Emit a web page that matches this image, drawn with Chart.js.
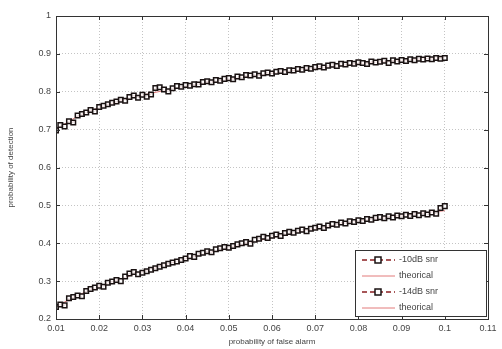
<!DOCTYPE html>
<html>
<head>
<meta charset="utf-8">
<script src="https://cdn.jsdelivr.net/npm/chart.js@4.4.1/dist/chart.umd.min.js"></script>
<style>
  html, body { margin: 0; padding: 0; background: #fff; }
  #wrap { width: 502px; height: 349px; }
</style>
</head>
<body>
<div id="wrap"><canvas id="pdChart" width="502" height="349"></canvas></div>
<script>
// false alarm probabilities for the simulated runs (0.010 .. 0.100, step 0.001)
const pfaSim = [
  0.010, 0.011, 0.012, 0.013, 0.014, 0.015, 0.016, 0.017, 0.018, 0.019,
  0.020, 0.021, 0.022, 0.023, 0.024, 0.025, 0.026, 0.027, 0.028, 0.029,
  0.030, 0.031, 0.032, 0.033, 0.034, 0.035, 0.036, 0.037, 0.038, 0.039,
  0.040, 0.041, 0.042, 0.043, 0.044, 0.045, 0.046, 0.047, 0.048, 0.049,
  0.050, 0.051, 0.052, 0.053, 0.054, 0.055, 0.056, 0.057, 0.058, 0.059,
  0.060, 0.061, 0.062, 0.063, 0.064, 0.065, 0.066, 0.067, 0.068, 0.069,
  0.070, 0.071, 0.072, 0.073, 0.074, 0.075, 0.076, 0.077, 0.078, 0.079,
  0.080, 0.081, 0.082, 0.083, 0.084, 0.085, 0.086, 0.087, 0.088, 0.089,
  0.090, 0.091, 0.092, 0.093, 0.094, 0.095, 0.096, 0.097, 0.098, 0.099,
  0.100
];

// detection probability, -10dB snr (simulated)
const pd10Sim = [
  0.698, 0.712, 0.708, 0.722, 0.719, 0.737, 0.741, 0.745, 0.752, 0.748,
  0.760, 0.763, 0.767, 0.771, 0.774, 0.779, 0.776, 0.786, 0.790, 0.784,
  0.792, 0.787, 0.793, 0.810, 0.812, 0.806, 0.801, 0.809, 0.815, 0.813,
  0.818, 0.816, 0.820, 0.819, 0.826, 0.828, 0.825, 0.831, 0.829, 0.834,
  0.836, 0.833, 0.840, 0.838, 0.844, 0.843, 0.846, 0.842, 0.849, 0.851,
  0.848, 0.853, 0.855, 0.852, 0.857, 0.856, 0.860, 0.858, 0.863, 0.861,
  0.865, 0.867, 0.864, 0.869, 0.871, 0.868, 0.874, 0.872, 0.876, 0.874,
  0.878, 0.876, 0.873, 0.880, 0.877, 0.879, 0.882, 0.876, 0.883, 0.880,
  0.884, 0.881, 0.886, 0.883, 0.887, 0.885, 0.888, 0.886, 0.889, 0.887,
  0.889
];

// detection probability, -14dB snr (simulated)
const pd14Sim = [
  0.232, 0.238, 0.236, 0.255, 0.258, 0.262, 0.260, 0.274, 0.279, 0.283,
  0.288, 0.285, 0.296, 0.299, 0.303, 0.300, 0.312, 0.320, 0.324, 0.318,
  0.322, 0.326, 0.330, 0.334, 0.338, 0.342, 0.346, 0.349, 0.352, 0.356,
  0.360, 0.366, 0.364, 0.372, 0.375, 0.379, 0.376, 0.384, 0.387, 0.390,
  0.388, 0.393, 0.397, 0.400, 0.403, 0.399, 0.409, 0.412, 0.417, 0.414,
  0.420, 0.423, 0.419, 0.427, 0.430, 0.428, 0.433, 0.436, 0.432, 0.438,
  0.441, 0.444, 0.440, 0.447, 0.451, 0.449, 0.455, 0.452, 0.458, 0.456,
  0.461, 0.459, 0.464, 0.462, 0.467, 0.469, 0.466, 0.471, 0.468, 0.473,
  0.471, 0.475, 0.472, 0.477, 0.474, 0.479, 0.476, 0.481, 0.478, 0.493,
  0.498
];

// theoretical curves
const pfaTheo = [0.010, 0.015, 0.020, 0.025, 0.030, 0.035, 0.040, 0.045, 0.050, 0.055,
                 0.060, 0.065, 0.070, 0.075, 0.080, 0.085, 0.090, 0.095, 0.100];
const pd10Theo = [0.700, 0.735, 0.758, 0.776, 0.791, 0.803, 0.814, 0.824, 0.833, 0.841,
                  0.849, 0.856, 0.862, 0.868, 0.874, 0.879, 0.883, 0.887, 0.891];
const pd14Theo = [0.233, 0.262, 0.286, 0.306, 0.325, 0.343, 0.359, 0.374, 0.388, 0.402,
                  0.415, 0.427, 0.438, 0.449, 0.459, 0.467, 0.474, 0.480, 0.486];

const xTicks = [0.01, 0.02, 0.03, 0.04, 0.05, 0.06, 0.07, 0.08, 0.09, 0.1, 0.11];
const yTicks = [0.2, 0.3, 0.4, 0.5, 0.6, 0.7, 0.8, 0.9, 1];

const legendLabels = ['-10dB snr', 'theorical', '-14dB snr', 'theorical'];

const simColor = '#8a1f22';
const theoColor = '#e27a7a';
const textColor = '#444';
const FONT = '"Liberation Sans", Arial, sans-serif';

function toPoints(xs, ys) {
  return xs.map((x, i) => ({ x: x, y: ys[i] }));
}

function simSet(label, ys) {
  return {
    label: label,
    data: toPoints(pfaSim, ys),
    borderColor: simColor,
    borderWidth: 1,
    borderDash: [4, 3],
    pointStyle: 'rect',
    pointRadius: 3.2,
    pointBorderColor: '#1a1212',
    pointBackgroundColor: 'rgba(255,255,255,0.8)',
    pointBorderWidth: 1.5,
    tension: 0
  };
}

function theoSet(label, ys) {
  return {
    label: label,
    data: toPoints(pfaTheo, ys),
    borderColor: theoColor,
    borderWidth: 1,
    pointRadius: 0,
    tension: 0.3
  };
}

// box around the axes, inward tick marks and the legend
const framePlugin = {
  id: 'frame',
  afterDraw(chart) {
    const { ctx, chartArea: a, scales } = chart;
    ctx.save();
    ctx.strokeStyle = '#333';
    ctx.lineWidth = 1;
    ctx.strokeRect(a.left + 0.5, a.top + 0.5, a.right - a.left, a.bottom - a.top);

    ctx.beginPath();
    xTicks.forEach(v => {
      const px = Math.round(scales.x.getPixelForValue(v)) + 0.5;
      ctx.moveTo(px, a.bottom); ctx.lineTo(px, a.bottom - 4);
      ctx.moveTo(px, a.top); ctx.lineTo(px, a.top + 4);
    });
    yTicks.forEach(v => {
      const py = Math.round(scales.y.getPixelForValue(v)) + 0.5;
      ctx.moveTo(a.left, py); ctx.lineTo(a.left + 4, py);
      ctx.moveTo(a.right, py); ctx.lineTo(a.right - 4, py);
    });
    ctx.stroke();

    // legend
    const w = 131, h = 66;
    const bx = a.right - 2 - w, by = a.bottom - 3 - h;
    ctx.fillStyle = '#fff';
    ctx.fillRect(bx, by, w, h);
    ctx.strokeStyle = '#333';
    ctx.strokeRect(bx + 0.5, by + 0.5, w, h);

    ctx.font = '9px ' + FONT;
    ctx.textBaseline = 'middle';
    const rows = [by + 10, by + 26, by + 42, by + 58];
    rows.forEach((ry, i) => {
      const isSim = i % 2 === 0;
      const x0 = bx + 7, x1 = bx + 40;
      ctx.beginPath();
      if (isSim) {
        ctx.strokeStyle = simColor;
        ctx.lineWidth = 1.5;
        ctx.setLineDash([5, 3]);
      } else {
        ctx.strokeStyle = theoColor;
        ctx.lineWidth = 1;
        ctx.setLineDash([]);
      }
      ctx.moveTo(x0, ry); ctx.lineTo(x1, ry);
      ctx.stroke();
      ctx.setLineDash([]);
      if (isSim) {
        ctx.fillStyle = '#fff';
        ctx.strokeStyle = '#1a1212';
        ctx.lineWidth = 1.5;
        ctx.fillRect(bx + 20, ry - 3, 6, 6);
        ctx.strokeRect(bx + 20, ry - 3, 6, 6);
      }
      ctx.fillStyle = textColor;
      ctx.fillText(legendLabels[i], bx + 44, ry);
    });
    ctx.restore();
  }
};

// dotted grid lines on both axes
const gridStyle = {
  color: '#c4c4c4',
  lineWidth: 1,
  drawTicks: false
};
const gridBorder = { display: false, dash: [1, 2] };

new Chart(document.getElementById('pdChart').getContext('2d'), {
  type: 'line',
  data: {
    datasets: [
      simSet(legendLabels[0], pd10Sim),
      theoSet(legendLabels[1], pd10Theo),
      simSet(legendLabels[2], pd14Sim),
      theoSet(legendLabels[3], pd14Theo)
    ]
  },
  options: {
    responsive: false,
    animation: false,
    layout: { padding: { top: 16, right: 14, left: 6, bottom: 2 } },
    plugins: {
      legend: { display: false },
      tooltip: { enabled: false }
    },
    scales: {
      x: {
        type: 'linear',
        min: 0.01,
        max: 0.11,
        afterBuildTicks: scale => { scale.ticks = xTicks.map(v => ({ value: v })); },
        afterFit: scale => { scale.height = 28; },
        grid: gridStyle,
        border: gridBorder,
        ticks: {
          color: textColor,
          font: { family: FONT, size: 9 },
          padding: 4,
          maxRotation: 0,
          callback: v => String(v)
        },
        title: {
          display: true,
          text: 'probability of false alarm',
          color: textColor,
          font: { family: FONT, size: 8 },
          padding: { top: 0, bottom: 0 }
        }
      },
      y: {
        min: 0.2,
        max: 1,
        afterBuildTicks: scale => { scale.ticks = yTicks.map(v => ({ value: v })); },
        afterFit: scale => { scale.width = 50; },
        grid: gridStyle,
        border: gridBorder,
        ticks: {
          color: textColor,
          font: { family: FONT, size: 9 },
          padding: 5,
          callback: v => String(v)
        },
        title: {
          display: true,
          text: 'probability of detection',
          color: textColor,
          font: { family: FONT, size: 8 },
          padding: { top: 0, bottom: 4 }
        }
      }
    }
  },
  plugins: [framePlugin]
});
</script>
</body>
</html>
